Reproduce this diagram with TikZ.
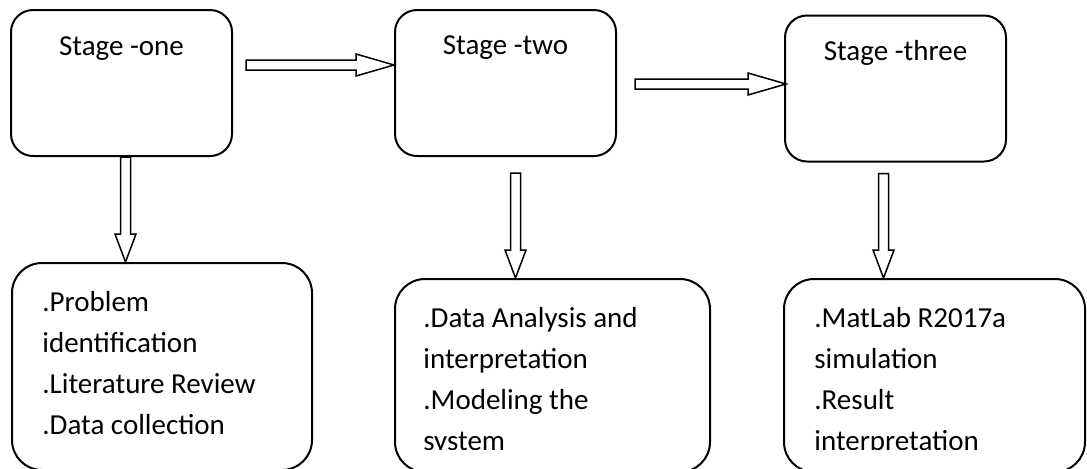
\documentclass[tikz,border=0pt]{standalone}
\usepackage{fontspec}
\setmainfont{Carlito}
\usetikzlibrary{calc}

\begin{document}
\begin{tikzpicture}[
  x=0.5pt, y=-0.5pt,
  stage/.style={rectangle, rounded corners=11pt, draw, line width=1pt,
                minimum width=110.5pt, minimum height=73pt, inner sep=0pt},
  task/.style={rectangle, rounded corners=15pt, draw, line width=1pt,
               minimum height=96.5pt, inner sep=0pt},
  txt/.style={font=\fontsize{14.5}{20.5}\selectfont, inner sep=0pt},
  harrow/.style={draw, line width=0.75pt, line join=miter,
    to path={let \p1=(\tikztostart), \p2=(\tikztotarget) in
      (\x1,\y1+2.5pt) -- (\x2-19pt,\y1+2.5pt) -- (\x2-19pt,\y1+5.5pt) -- (\x2,\y1)
      -- (\x2-19pt,\y1-5.5pt) -- (\x2-19pt,\y1-2.5pt) -- (\x1,\y1-2.5pt) -- cycle}},
  varrow/.style={draw, line width=0.75pt, line join=miter,
    to path={let \p1=(\tikztostart), \p2=(\tikztotarget) in
      (\x1-2.5pt,\y1) -- (\x1-2.5pt,\y2+14pt) -- (\x1-5.25pt,\y2+14pt) -- (\x1,\y2)
      -- (\x1+5.25pt,\y2+14pt) -- (\x1+2.5pt,\y2+14pt) -- (\x1+2.5pt,\y1) -- cycle}}
]
\clip (0,0) rectangle (1087,468);
\useasboundingbox (0,0) rectangle (1087,468);

% stages
\node[stage] (s1) at (121.5,83)   {};
\node[stage] (s2) at (505.5,83)   {};
\node[stage] (s3) at (895.5,88.5) {};
\node[txt, anchor=base] (t1) at ([yshift=-23pt]s1.north) {Stage -one};
\node[txt, anchor=base] (t2) at ([yshift=-22.5pt]s2.north) {Stage -two};
\node[txt, anchor=base] (t3) at ([yshift=-23pt]s3.north) {Stage -three};

% tasks (base = last line, so shift by 3 lines)
\node[task, minimum width=150pt, minimum height=103.5pt] (b1) at (162,366.5) {};
\node[task, minimum width=157.5pt] (b2) at (552.5,375.5) {};
\node[task, minimum width=150.5pt] (b3) at (934.5,375.5) {};
\begin{scope}
  \clip (0,0) rectangle (1087,449);
  \node[txt, align=left, anchor=base west] (l1) at ([shift={(15.5pt,-86pt)}]b1.north west)
    {.Problem\\identification\\.Literature Review\\.Data collection};
  \node[txt, align=left, anchor=base west] (l2) at ([shift={(14.5pt,-86pt)}]b2.north west)
    {.Data Analysis and\\interpretation\\.Modeling the\\system};
  \node[txt, align=left, anchor=base west] (l3) at ([shift={(15.5pt,-86pt)}]b3.north west)
    {.MatLab R2017a\\simulation\\.Result\\interpretation};
\end{scope}

% arrows
\draw[harrow] ([shift={(6.5pt,9pt)}]s1.east) to (s2.west);
\draw[harrow] ([shift={(9pt,-0.5pt)}]s2.east) to ([xshift=1pt]s3.west);
\draw[varrow] ([xshift=2pt]s1.south) to (b1.north);
\draw[varrow] ([shift={(5pt,-8pt)}]s2.south) to (b2.north);
\draw[varrow] ([shift={(-6pt,-5.5pt)}]s3.south) to (b3.north);
\end{tikzpicture}
\end{document}
